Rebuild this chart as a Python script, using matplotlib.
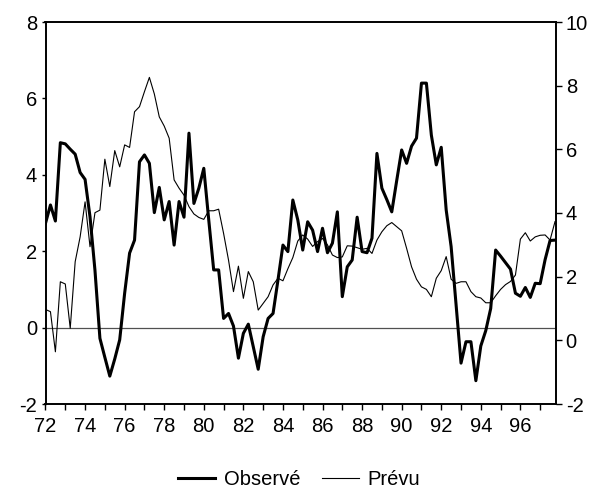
import numpy as np
import matplotlib.pyplot as plt
from matplotlib.ticker import MultipleLocator, FuncFormatter

plt.rcParams["font.family"] = ["Liberation Sans", "DejaVu Sans"]
plt.rcParams["axes.unicode_minus"] = False

# quarterly data, 1972Q1 - 1997Q4
start_year = 72
observe = [
    2.73, 3.21, 2.79, 4.84, 4.81, 4.67, 4.54, 4.06, 3.88, 2.90,
    1.50, -0.28, -0.78, -1.27, -0.82, -0.32, 0.90, 1.95, 2.29, 4.34,
    4.52, 4.30, 3.01, 3.67, 2.82, 3.30, 2.16, 3.30, 2.89, 5.09,
    3.25, 3.65, 4.17, 2.82, 1.51, 1.51, 0.24, 0.37, 0.04, -0.80,
    -0.15, 0.09, -0.50, -1.09, -0.24, 0.24, 0.37, 1.25, 2.16, 1.99,
    3.34, 2.82, 2.03, 2.77, 2.55, 1.99, 2.60, 1.96, 2.21, 3.03,
    0.81, 1.59, 1.77, 2.89, 1.99, 1.96, 2.34, 4.56, 3.65, 3.35,
    3.03, 3.85, 4.65, 4.30, 4.75, 4.96, 6.40, 6.40, 5.04, 4.26,
    4.72, 3.08, 2.12, 0.60, -0.93, -0.37, -0.37, -1.39, -0.48, -0.08,
    0.50, 2.03, 1.87, 1.70, 1.53, 0.90, 0.82, 1.05, 0.79, 1.16,
    1.15, 1.78, 2.28, 2.29,
]
prevu = [
    0.97, 0.90, -0.36, 1.84, 1.77, 0.38, 2.47, 3.25, 4.35, 2.94,
    4.01, 4.09, 5.69, 4.83, 5.96, 5.45, 6.14, 6.06, 7.18, 7.34,
    7.81, 8.26, 7.74, 7.02, 6.73, 6.35, 5.04, 4.78, 4.56, 4.20,
    3.97, 3.86, 3.80, 4.07, 4.07, 4.12, 3.36, 2.52, 1.53, 2.33,
    1.32, 2.16, 1.84, 0.95, 1.16, 1.37, 1.74, 1.95, 1.87, 2.25,
    2.60, 3.12, 3.31, 3.18, 2.95, 3.10, 3.20, 3.00, 2.68, 2.60,
    2.62, 2.97, 2.96, 2.91, 2.86, 2.89, 2.73, 3.15, 3.41, 3.60,
    3.70, 3.57, 3.44, 2.89, 2.31, 1.92, 1.68, 1.60, 1.37, 1.95,
    2.19, 2.63, 1.92, 1.79, 1.84, 1.84, 1.53, 1.37, 1.33, 1.18,
    1.18, 1.40, 1.60, 1.75, 1.85, 2.05, 3.18, 3.38, 3.12, 3.25,
    3.30, 3.31, 3.15, 3.73,
]

t = start_year + np.arange(len(observe)) / 4.0

fig = plt.figure(figsize=(6.02, 4.88), dpi=100)
ax1 = fig.add_axes([45.5 / 602, 1 - 404 / 488, (556 - 45.5) / 602, (404 - 22) / 488])
ax2 = ax1.twinx()

# zero reference line on the left scale
ax1.axhline(0, color="#505050", lw=0.9, zorder=1)
l1, = ax1.plot(t, observe, color="black", lw=2.2, label="Observé", zorder=3)
l2, = ax2.plot(t, prevu, color="black", lw=0.8, label="Prévu", zorder=2)

ax1.set_xlim(72, 97.8)
ax1.set_ylim(-2, 8)
ax2.set_ylim(-2, 10)
ax1.set_yticks(np.arange(-2, 9, 2))
ax2.set_yticks(np.arange(-2, 11, 2))

ax1.xaxis.set_major_locator(MultipleLocator(2))
ax1.xaxis.set_minor_locator(MultipleLocator(1))
ax1.xaxis.set_major_formatter(FuncFormatter(lambda v, p: f"{int(round(v))}"))

for ax in (ax1, ax2):
    for s in ax.spines.values():
        s.set_linewidth(1.2)
    ax.tick_params(labelsize=14.5, width=1.0, colors="black")

ax1.tick_params(axis="y", length=3, pad=3)
ax2.tick_params(axis="y", length=4, pad=3)
ax1.tick_params(axis="x", which="both", length=4.5, width=1.0, pad=4.5)

fig.legend(handles=[l1, l2], loc="center", bbox_to_anchor=(0.497, 0.018),
           ncol=2, frameon=False, fontsize=14.5, handlelength=1.85,
           handletextpad=0.4, columnspacing=1.1)

fig.savefig("out.png", dpi=100)
